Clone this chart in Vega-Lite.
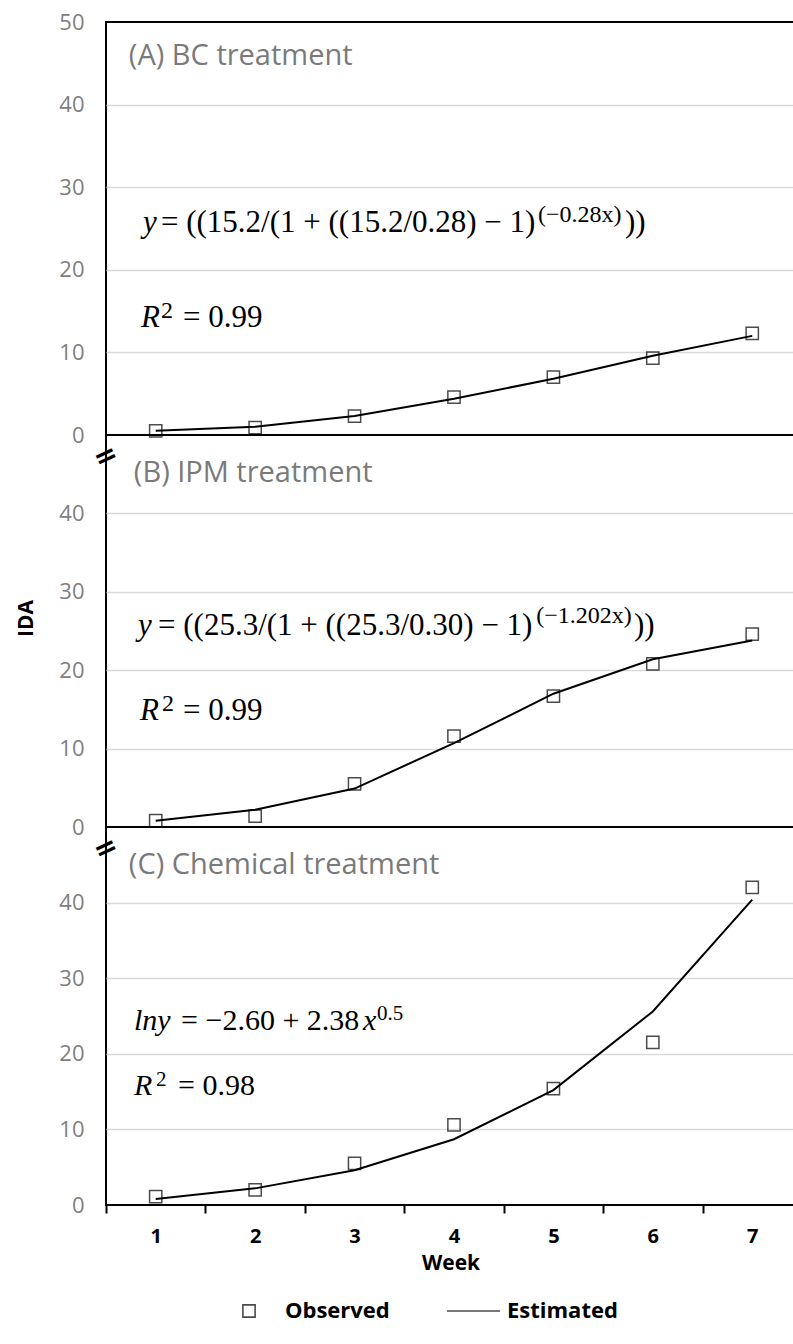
{
  "$schema": "https://vega.github.io/schema/vega-lite/v6.json",
  "background": "white",
  "padding": {"left": 14, "top": 10, "right": 0, "bottom": 5},
  "spacing": 0,
  "bounds": "flush",
  "config": {
    "font": "Open Sans",
    "view": {"stroke": "#000", "strokeWidth": 2},
    "axisY": {"domain": false, "ticks": false, "tickSize": 0, "grid": true, "gridColor": "#d9d9d9", "gridWidth": 1.5, "labelFont": "Open Sans", "labelFontSize": 22, "labelColor": "#808080", "labelPadding": 22},
    "text": {"align": "left", "baseline": "middle"}
  },
  "datasets": {
    "series": [
      {"panel": "A", "series": "Observed", "week": 1, "ida": 0.5},
      {"panel": "A", "series": "Observed", "week": 2, "ida": 0.9},
      {"panel": "A", "series": "Observed", "week": 3, "ida": 2.3},
      {"panel": "A", "series": "Observed", "week": 4, "ida": 4.6},
      {"panel": "A", "series": "Observed", "week": 5, "ida": 7.0},
      {"panel": "A", "series": "Observed", "week": 6, "ida": 9.3},
      {"panel": "A", "series": "Observed", "week": 7, "ida": 12.3},
      {"panel": "A", "series": "Estimated", "week": 1, "ida": 0.5},
      {"panel": "A", "series": "Estimated", "week": 2, "ida": 1.0},
      {"panel": "A", "series": "Estimated", "week": 3, "ida": 2.3},
      {"panel": "A", "series": "Estimated", "week": 4, "ida": 4.4},
      {"panel": "A", "series": "Estimated", "week": 5, "ida": 6.8},
      {"panel": "A", "series": "Estimated", "week": 6, "ida": 9.6},
      {"panel": "A", "series": "Estimated", "week": 7, "ida": 12.0},
      {"panel": "B", "series": "Observed", "week": 1, "ida": 0.8},
      {"panel": "B", "series": "Observed", "week": 2, "ida": 1.4},
      {"panel": "B", "series": "Observed", "week": 3, "ida": 5.5},
      {"panel": "B", "series": "Observed", "week": 4, "ida": 11.6},
      {"panel": "B", "series": "Observed", "week": 5, "ida": 16.7},
      {"panel": "B", "series": "Observed", "week": 6, "ida": 20.8},
      {"panel": "B", "series": "Observed", "week": 7, "ida": 24.6},
      {"panel": "B", "series": "Estimated", "week": 1, "ida": 0.8},
      {"panel": "B", "series": "Estimated", "week": 2, "ida": 2.2},
      {"panel": "B", "series": "Estimated", "week": 3, "ida": 4.9},
      {"panel": "B", "series": "Estimated", "week": 4, "ida": 10.7},
      {"panel": "B", "series": "Estimated", "week": 5, "ida": 17.0},
      {"panel": "B", "series": "Estimated", "week": 6, "ida": 21.4},
      {"panel": "B", "series": "Estimated", "week": 7, "ida": 23.8},
      {"panel": "C", "series": "Observed", "week": 1, "ida": 1.1},
      {"panel": "C", "series": "Observed", "week": 2, "ida": 2.0},
      {"panel": "C", "series": "Observed", "week": 3, "ida": 5.5},
      {"panel": "C", "series": "Observed", "week": 4, "ida": 10.6},
      {"panel": "C", "series": "Observed", "week": 5, "ida": 15.4},
      {"panel": "C", "series": "Observed", "week": 6, "ida": 21.5},
      {"panel": "C", "series": "Observed", "week": 7, "ida": 42.0},
      {"panel": "C", "series": "Estimated", "week": 1, "ida": 0.8},
      {"panel": "C", "series": "Estimated", "week": 2, "ida": 2.2},
      {"panel": "C", "series": "Estimated", "week": 3, "ida": 4.6},
      {"panel": "C", "series": "Estimated", "week": 4, "ida": 8.7},
      {"panel": "C", "series": "Estimated", "week": 5, "ida": 15.2},
      {"panel": "C", "series": "Estimated", "week": 6, "ida": 25.6},
      {"panel": "C", "series": "Estimated", "week": 7, "ida": 40.4}
    ],
    "notes": [
      {"panel": "A", "part": "title", "x": 0.73, "y": 45.9, "text": "(A) BC treatment"},
      {"panel": "A", "part": "var", "x": 0.872, "y": 25.7, "text": "y"},
      {"panel": "A", "part": "math", "x": 1.053, "y": 25.7, "text": "= ((15.2/(1 + ((15.2/0.28) − 1)"},
      {"panel": "A", "part": "sup", "x": 4.846, "y": 26.6, "text": "(−0.28x)"},
      {"panel": "A", "part": "math", "x": 5.72, "y": 25.7, "text": "))"},
      {"panel": "A", "part": "var", "x": 0.852, "y": 14.2, "text": "R"},
      {"panel": "A", "part": "sup", "x": 1.053, "y": 15.0, "text": "2"},
      {"panel": "A", "part": "math", "x": 1.275, "y": 14.2, "text": "= 0.99"},
      {"panel": "B", "part": "title", "x": 0.78, "y": 45.1, "text": "(B) IPM treatment"},
      {"panel": "B", "part": "var", "x": 0.822, "y": 25.6, "text": "y"},
      {"panel": "B", "part": "math", "x": 1.023, "y": 25.6, "text": "= ((25.3/(1 + ((25.3/0.30) − 1)"},
      {"panel": "B", "part": "sup", "x": 4.827, "y": 26.9, "text": "(−1.202x)"},
      {"panel": "B", "part": "math", "x": 5.81, "y": 25.6, "text": "))"},
      {"panel": "B", "part": "var", "x": 0.842, "y": 14.8, "text": "R"},
      {"panel": "B", "part": "sup", "x": 1.063, "y": 15.7, "text": "2"},
      {"panel": "B", "part": "math", "x": 1.275, "y": 14.8, "text": "= 0.99"},
      {"panel": "B", "part": "brk", "x": 0.5, "y": 47.2, "text": "="},
      {"panel": "C", "part": "title", "x": 0.73, "y": 45.0, "text": "(C) Chemical treatment"},
      {"panel": "C", "part": "var", "x": 0.782, "y": 24.3, "text": "lny"},
      {"panel": "C", "part": "math", "x": 1.255, "y": 24.3, "text": "= −2.60 + 2.38"},
      {"panel": "C", "part": "var", "x": 3.085, "y": 24.3, "text": "x"},
      {"panel": "C", "part": "sup", "x": 3.226, "y": 25.3, "text": "0.5"},
      {"panel": "C", "part": "var", "x": 0.782, "y": 15.7, "text": "R"},
      {"panel": "C", "part": "sup", "x": 1.003, "y": 16.6, "text": "2"},
      {"panel": "C", "part": "math", "x": 1.224, "y": 15.7, "text": "= 0.98"},
      {"panel": "C", "part": "brk", "x": 0.5, "y": 47.1, "text": "="}
    ]
  },
  "resolve": {"scale": {"x": "independent", "y": "independent"}},
  "vconcat": [
    {
      "width": 689,
      "height": 413,
      "encoding": {
        "x": {"field": "week", "type": "quantitative", "scale": {"domain": [0.5, 7.43], "nice": false, "zero": false}, "axis": null},
        "y": {"field": "ida", "type": "quantitative", "scale": {"domain": [0, 50], "nice": false}, "axis": {"values": [0, 10, 20, 30, 40, 50], "title": "IDA", "titleOpacity": 0, "titleFontSize": 21, "titleFontWeight": "bold", "titlePadding": 22, "gridOpacity": {"condition": {"test": "datum.value === 0 || datum.value === 50", "value": 0}, "value": 1}}}
      },
      "layer": [
        {"data": {"name": "series"}, "transform": [{"filter": "datum.panel === 'A' && datum.series === 'Estimated'"}], "mark": {"type": "line", "color": "#000", "strokeWidth": 2}},
        {"data": {"name": "series"}, "transform": [{"filter": "datum.panel === 'A' && datum.series === 'Observed'"}], "mark": {"type": "point", "shape": "square", "filled": false, "color": "#000", "strokeWidth": 1.5, "size": 150}},
        {"data": {"name": "notes"}, "transform": [{"filter": "datum.panel === 'A' && datum.part === 'title'"}], "mark": {"type": "text", "font": "Open Sans", "fontSize": 29, "color": "#7a7a7a"}, "encoding": {"x": {"field": "x", "type": "quantitative"}, "y": {"field": "y", "type": "quantitative"}, "text": {"field": "text"}}},
        {"data": {"name": "notes"}, "transform": [{"filter": "datum.panel === 'A' && datum.part === 'var'"}], "mark": {"type": "text", "font": "Liberation Serif", "fontStyle": "italic", "fontSize": 31, "color": "#000"}, "encoding": {"x": {"field": "x", "type": "quantitative"}, "y": {"field": "y", "type": "quantitative"}, "text": {"field": "text"}}},
        {"data": {"name": "notes"}, "transform": [{"filter": "datum.panel === 'A' && datum.part === 'math'"}], "mark": {"type": "text", "font": "Liberation Serif", "fontSize": 31, "color": "#000"}, "encoding": {"x": {"field": "x", "type": "quantitative"}, "y": {"field": "y", "type": "quantitative"}, "text": {"field": "text"}}},
        {"data": {"name": "notes"}, "transform": [{"filter": "datum.panel === 'A' && datum.part === 'sup'"}], "mark": {"type": "text", "font": "Liberation Serif", "fontSize": 24, "color": "#000"}, "encoding": {"x": {"field": "x", "type": "quantitative"}, "y": {"field": "y", "type": "quantitative"}, "text": {"field": "text"}}}
      ]
    },
    {
      "width": 689,
      "height": 392,
      "encoding": {
        "x": {"field": "week", "type": "quantitative", "scale": {"domain": [0.5, 7.43], "nice": false, "zero": false}, "axis": null},
        "y": {"field": "ida", "type": "quantitative", "scale": {"domain": [0, 50], "nice": false}, "axis": {"values": [0, 10, 20, 30, 40], "title": "IDA", "titleFont": "Open Sans", "titleFontSize": 21, "titleFontWeight": "bold", "titleColor": "#000", "titlePadding": 22, "titleY": 183, "gridOpacity": {"condition": {"test": "datum.value === 0", "value": 0}, "value": 1}}}
      },
      "layer": [
        {"data": {"name": "series"}, "transform": [{"filter": "datum.panel === 'B' && datum.series === 'Estimated'"}], "mark": {"type": "line", "color": "#000", "strokeWidth": 2}},
        {"data": {"name": "series"}, "transform": [{"filter": "datum.panel === 'B' && datum.series === 'Observed'"}], "mark": {"type": "point", "shape": "square", "filled": false, "color": "#000", "strokeWidth": 1.5, "size": 150}},
        {"data": {"name": "notes"}, "transform": [{"filter": "datum.panel === 'B' && datum.part === 'title'"}], "mark": {"type": "text", "font": "Open Sans", "fontSize": 29, "color": "#7a7a7a"}, "encoding": {"x": {"field": "x", "type": "quantitative"}, "y": {"field": "y", "type": "quantitative"}, "text": {"field": "text"}}},
        {"data": {"name": "notes"}, "transform": [{"filter": "datum.panel === 'B' && datum.part === 'var'"}], "mark": {"type": "text", "font": "Liberation Serif", "fontStyle": "italic", "fontSize": 31, "color": "#000"}, "encoding": {"x": {"field": "x", "type": "quantitative"}, "y": {"field": "y", "type": "quantitative"}, "text": {"field": "text"}}},
        {"data": {"name": "notes"}, "transform": [{"filter": "datum.panel === 'B' && datum.part === 'math'"}], "mark": {"type": "text", "font": "Liberation Serif", "fontSize": 31, "color": "#000"}, "encoding": {"x": {"field": "x", "type": "quantitative"}, "y": {"field": "y", "type": "quantitative"}, "text": {"field": "text"}}},
        {"data": {"name": "notes"}, "transform": [{"filter": "datum.panel === 'B' && datum.part === 'sup'"}], "mark": {"type": "text", "font": "Liberation Serif", "fontSize": 24, "color": "#000"}, "encoding": {"x": {"field": "x", "type": "quantitative"}, "y": {"field": "y", "type": "quantitative"}, "text": {"field": "text"}}},
        {"data": {"name": "notes"}, "transform": [{"filter": "datum.panel === 'B' && datum.part === 'brk'"}], "mark": {"type": "text", "font": "DejaVu Sans", "fontWeight": "bold", "fontSize": 28, "align": "center", "angle": 335, "color": "#000"}, "encoding": {"x": {"field": "x", "type": "quantitative"}, "y": {"field": "y", "type": "quantitative"}, "text": {"field": "text"}}}
      ]
    },
    {
      "width": 689,
      "height": 378,
      "encoding": {
        "x": {"field": "week", "type": "quantitative", "scale": {"domain": [0.5, 7.43], "nice": false, "zero": false}, "axis": {"values": [0.5, 1, 1.5, 2, 2.5, 3, 3.5, 4, 4.5, 5, 5.5, 6, 6.5, 7], "labelExpr": "datum.value % 1 === 0 ? format(datum.value, 'd') : ''", "tickOpacity": {"condition": {"test": "datum.value % 1 === 0", "value": 0}, "value": 1}, "domain": false, "grid": false, "tickSize": 8, "tickWidth": 2, "tickColor": "#000", "labelFont": "Open Sans", "labelFontWeight": "bold", "labelFontSize": 20, "labelColor": "#000", "labelPadding": 13, "labelFlush": false, "labelOverlap": false, "title": "Week", "titleFont": "Open Sans", "titleFontSize": 21, "titleFontWeight": "bold", "titleColor": "#000", "titlePadding": 6}},
        "y": {"field": "ida", "type": "quantitative", "scale": {"domain": [0, 50], "nice": false}, "axis": {"values": [0, 10, 20, 30, 40], "title": "IDA", "titleOpacity": 0, "titleFontSize": 21, "titleFontWeight": "bold", "titlePadding": 22, "gridOpacity": {"condition": {"test": "datum.value === 0", "value": 0}, "value": 1}}}
      },
      "layer": [
        {"data": {"name": "series"}, "transform": [{"filter": "datum.panel === 'C' && datum.series === 'Estimated'"}], "mark": {"type": "line", "color": "#000", "strokeWidth": 2}},
        {"data": {"name": "series"}, "transform": [{"filter": "datum.panel === 'C' && datum.series === 'Observed'"}], "mark": {"type": "point", "filled": false, "color": "#000", "strokeWidth": 1.5, "size": 150},
          "encoding": {
            "shape": {"field": "series", "type": "nominal", "scale": {"domain": ["Observed", "Estimated"], "range": ["square", "M-3.92,0H4.74"]}, "legend": {"orient": "none", "legendX": 132, "legendY": 1278, "direction": "horizontal", "title": null, "labelFont": "Open Sans", "labelFontWeight": "bold", "labelFontSize": 22, "labelColor": "#000", "labelOffset": 25, "columnPadding": 53, "symbolSize": 150, "symbolStrokeWidth": 1.6, "symbolStrokeColor": "#000"}}
          }},
        {"data": {"name": "notes"}, "transform": [{"filter": "datum.panel === 'C' && datum.part === 'title'"}], "mark": {"type": "text", "font": "Open Sans", "fontSize": 29, "color": "#7a7a7a"}, "encoding": {"x": {"field": "x", "type": "quantitative"}, "y": {"field": "y", "type": "quantitative"}, "text": {"field": "text"}}},
        {"data": {"name": "notes"}, "transform": [{"filter": "datum.panel === 'C' && datum.part === 'var'"}], "mark": {"type": "text", "font": "Liberation Serif", "fontStyle": "italic", "fontSize": 30, "color": "#000"}, "encoding": {"x": {"field": "x", "type": "quantitative"}, "y": {"field": "y", "type": "quantitative"}, "text": {"field": "text"}}},
        {"data": {"name": "notes"}, "transform": [{"filter": "datum.panel === 'C' && datum.part === 'math'"}], "mark": {"type": "text", "font": "Liberation Serif", "fontSize": 30, "color": "#000"}, "encoding": {"x": {"field": "x", "type": "quantitative"}, "y": {"field": "y", "type": "quantitative"}, "text": {"field": "text"}}},
        {"data": {"name": "notes"}, "transform": [{"filter": "datum.panel === 'C' && datum.part === 'sup'"}], "mark": {"type": "text", "font": "Liberation Serif", "fontSize": 21, "color": "#000"}, "encoding": {"x": {"field": "x", "type": "quantitative"}, "y": {"field": "y", "type": "quantitative"}, "text": {"field": "text"}}},
        {"data": {"name": "notes"}, "transform": [{"filter": "datum.panel === 'C' && datum.part === 'brk'"}], "mark": {"type": "text", "font": "DejaVu Sans", "fontWeight": "bold", "fontSize": 28, "align": "center", "angle": 335, "color": "#000"}, "encoding": {"x": {"field": "x", "type": "quantitative"}, "y": {"field": "y", "type": "quantitative"}, "text": {"field": "text"}}}
      ]
    }
  ]
}
